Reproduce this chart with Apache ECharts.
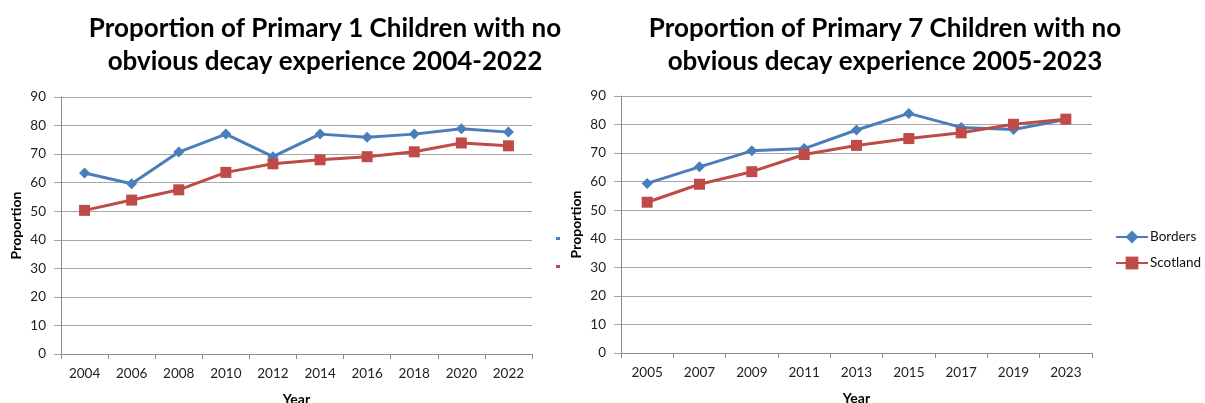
<!DOCTYPE html>
<html>
<head>
<meta charset="utf-8">
<script src="https://cdn.jsdelivr.net/npm/echarts@6/dist/echarts.min.js"></script>
<style>
  html, body { margin: 0; padding: 0; background: #fff; }
  #chart { width: 1205px; height: 403px; }
</style>
</head>
<body>
<div id="chart"></div>
<script>
// Primary 1 survey years and values
const p1Years = ['2004', '2006', '2008', '2010', '2012', '2014', '2016', '2018', '2020', '2022'];
const p1Borders = [63.4, 59.6, 70.7, 77.0, 69.1, 77.0, 75.9, 77.0, 78.9, 77.7];
const p1Scotland = [50.3, 53.9, 57.5, 63.6, 66.6, 68.0, 69.1, 70.8, 73.9, 72.9];

// Primary 7 survey years and values
const p7Years = ['2005', '2007', '2009', '2011', '2013', '2015', '2017', '2019', '2023'];
const p7Borders = [59.4, 65.2, 70.8, 71.6, 78.1, 83.9, 79.0, 78.3, 81.8];
const p7Scotland = [52.8, 59.1, 63.5, 69.5, 72.7, 75.1, 77.1, 80.1, 81.9];

const yTicks = { min: 0, max: 90, interval: 10 };

const BLUE = '#4a7ebb';
const RED = '#be4b48';
const GRID_LINE = '#a6a6a6';
const AXIS_LINE = '#8c8c8c';
const FONT = 'Lato, "Open Sans", sans-serif';

function xAxisFor(gridIndex, years) {
  return {
    type: 'category',
    gridIndex,
    data: years,
    boundaryGap: true,
    name: 'Year',
    nameLocation: 'middle',
    nameGap: 38,
    nameTextStyle: { fontFamily: FONT, fontWeight: 'bold', fontSize: 14, color: '#000' },
    axisLine: { lineStyle: { color: AXIS_LINE, width: 1 } },
    axisTick: { show: true, length: 5, lineStyle: { color: AXIS_LINE } },
    axisLabel: { fontFamily: FONT, fontSize: 13.5, color: '#222', margin: 13 },
    splitLine: { show: false }
  };
}

function yAxisFor(gridIndex) {
  return {
    type: 'value',
    gridIndex,
    min: yTicks.min,
    max: yTicks.max,
    interval: yTicks.interval,
    name: 'Proportion',
    nameLocation: 'middle',
    nameGap: 38,
    nameTextStyle: { fontFamily: FONT, fontWeight: 'bold', fontSize: 14, color: '#000' },
    axisLine: { show: true, lineStyle: { color: AXIS_LINE, width: 1 } },
    axisTick: { show: true, length: 7, lineStyle: { color: GRID_LINE } },
    axisLabel: { fontFamily: FONT, fontSize: 13.5, color: '#222', margin: 15 },
    splitLine: { show: true, lineStyle: { color: GRID_LINE, width: 1 } }
  };
}

function lineSeries(name, data, idx, color, symbol, size) {
  return {
    name,
    type: 'line',
    xAxisIndex: idx,
    yAxisIndex: idx,
    data,
    symbol,
    symbolSize: size,
    lineStyle: { color, width: 3 },
    itemStyle: { color },
    emphasis: { disabled: true },
    animation: false
  };
}

const chart = echarts.init(document.getElementById('chart'), null, { renderer: 'canvas' });

chart.setOption({
  backgroundColor: '#fff',
  animation: false,
  title: [
    {
      text: 'Proportion of Primary 1 Children with no\nobvious decay experience 2004-2022',
      left: 320, top: 7, textAlign: 'center',
      textStyle: { fontFamily: FONT, fontWeight: 'bold', fontSize: 26, lineHeight: 33, color: '#000' }
    },
    {
      text: 'Proportion of Primary 7 Children with no\nobvious decay experience 2005-2023',
      left: 880, top: 7, textAlign: 'center',
      textStyle: { fontFamily: FONT, fontWeight: 'bold', fontSize: 26, lineHeight: 33, color: '#000' }
    }
  ],
  legend: [
    {
      data: ['Borders', 'Scotland'],
      orient: 'vertical',
      left: 1115,
      top: 230,
      padding: 0,
      itemGap: 12,
      itemWidth: 32,
      itemHeight: 16,
      selectedMode: false,
      textStyle: { fontFamily: FONT, fontSize: 13.5, color: '#111', padding: [0, 0, 0, -3] }
    },
    {
      // narrow legend strip beside the first panel, text clipped away
      data: ['Borders', 'Scotland'],
      orient: 'vertical',
      left: 556,
      top: 237,
      padding: 0,
      itemGap: 25,
      itemWidth: 4,
      itemHeight: 3,
      icon: 'rect',
      selectedMode: false,
      formatter: () => '',
      textStyle: { fontSize: 1 }
    }
  ],
  grid: [
    { left: 61, top: 97, width: 471, height: 257, containLabel: false, outerBoundsMode: 'none' },
    { left: 621, top: 96, width: 471, height: 257, containLabel: false, outerBoundsMode: 'none' }
  ],
  xAxis: [xAxisFor(0, p1Years), xAxisFor(1, p7Years)],
  yAxis: [yAxisFor(0), yAxisFor(1)],
  series: [
    lineSeries('Borders', p1Borders, 0, BLUE, 'diamond', 11),
    lineSeries('Scotland', p1Scotland, 0, RED, 'rect', 11),
    lineSeries('Borders', p7Borders, 1, BLUE, 'diamond', 11),
    lineSeries('Scotland', p7Scotland, 1, RED, 'rect', 11)
  ]
});
</script>
</body>
</html>
